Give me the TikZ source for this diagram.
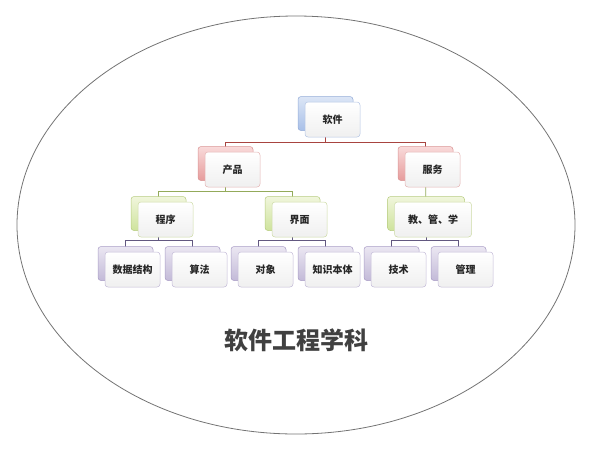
\documentclass[tikz,border=0pt]{standalone}
\usepackage{fontspec}
\newfontfamily\cjk{Noto Sans CJK SC}
\usetikzlibrary{backgrounds}
\definecolor{bluetop}{HTML}{DCE6F6}
\definecolor{bluebot}{HTML}{A9C0E8}
\definecolor{blueline}{HTML}{94ACD8}
\definecolor{redtop}{HTML}{F9DADA}
\definecolor{redbot}{HTML}{E69C9C}
\definecolor{redline}{HTML}{D99494}
\definecolor{greentop}{HTML}{F0F6DC}
\definecolor{greenbot}{HTML}{CFE39D}
\definecolor{greenline}{HTML}{B7CC80}
\definecolor{purpletop}{HTML}{EBE7F2}
\definecolor{purplebot}{HTML}{C3BAD8}
\definecolor{purpleline}{HTML}{A99DC6}
\definecolor{conred}{HTML}{A84440}
\definecolor{congreen}{HTML}{93AA5A}
\definecolor{conpurple}{HTML}{625880}
\tikzset{
  backbox/.style={draw=#1line, line width=0.5pt, rounded corners=3pt,
    top color=#1top, bottom color=#1bot, minimum width=55pt, minimum height=34pt, inner sep=0pt},
  frontbox/.style={draw=#1line!70, line width=0.5pt, rounded corners=3pt,
    top color=white, bottom color=white!94!black, minimum width=55pt, minimum height=35pt,
    inner sep=0pt, font=\cjk\bfseries\fontsize{10}{12}\selectfont, text=black!85},
  conn/.style={draw=#1, line width=0.8pt},
  outline/.style={draw=black!55, line width=0.8pt}
}
\newcommand\pairnode[6][]{%
  \node[backbox=#5,#1] (#2b) at (#3-7,#4-6) {};
  \node[frontbox=#5,#1] (#2) at (#3,#4) {#6};}
\begin{document}
\begin{tikzpicture}[x=1pt,y=-1pt]
\useasboundingbox (0,0) rectangle (592,451);
% level 1
\pairnode{sw}{332.5}{119.5}{blue}{软件}
% level 2
\pairnode{cp}{232.5}{169.5}{red}{产品}
\pairnode{fw}{432.5}{169.5}{red}{服务}
% level 3
\pairnode{cx}{165.5}{219.5}{green}{程序}
\pairnode{jm}{299.5}{219.5}{green}{界面}
\pairnode[minimum width=77pt]{jg}{433}{219.5}{green}{教、管、学}
% level 4
\pairnode{sj}{132.5}{269.5}{purple}{数据结构}
\pairnode{sf}{199.5}{269.5}{purple}{算法}
\pairnode{dx}{265.5}{269.5}{purple}{对象}
\pairnode{zs}{332.5}{269.5}{purple}{知识本体}
\pairnode{js}{398.5}{269.5}{purple}{技术}
\pairnode{gl}{465.5}{269.5}{purple}{管理}
% title
\node[font=\cjk\bfseries\fontsize{24}{28}\selectfont, text=black!75] (title) at (296,340) {软件工程学科};
\coordinate (h1) at (0,142);
\coordinate (h2) at (0,191);
\coordinate (h3) at (0,240);
\begin{scope}[on background layer]
  \draw[outline] (296,225) ellipse [x radius=279, y radius=209];
  \draw[conn=conred] (swb.center) -- (swb.center |- h1) -| (cpb.center);
  \draw[conn=conred] (swb.center |- h1) -| (fwb.center);
  \draw[conn=congreen] (cpb.center) -- (cpb.center |- h2) -| (cxb.center);
  \draw[conn=congreen] (cpb.center |- h2) -| (jmb.center);
  \draw[conn=congreen] (fwb.center) -- (jgb.center);
  \draw[conn=conpurple] (cxb.center) -- (cxb.center |- h3) -| (sjb.center);
  \draw[conn=conpurple] (cxb.center |- h3) -| (sfb.center);
  \draw[conn=conpurple] (jmb.center) -- (jmb.center |- h3) -| (dxb.center);
  \draw[conn=conpurple] (jmb.center |- h3) -| (zsb.center);
  \draw[conn=conpurple] (jgb.center) -- (jgb.center |- h3) -| (jsb.center);
  \draw[conn=conpurple] (jgb.center |- h3) -| (glb.center);
\end{scope}
\end{tikzpicture}
\end{document}
